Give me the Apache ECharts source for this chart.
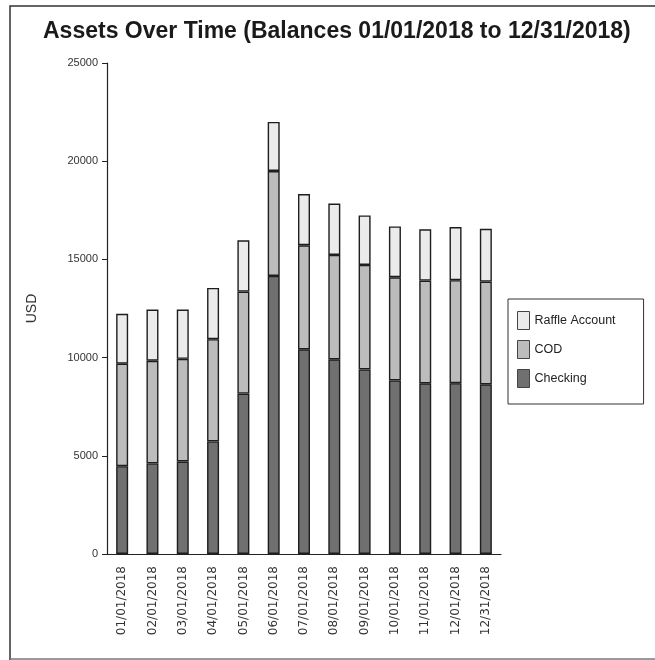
<!DOCTYPE html>
<html>
<head>
<meta charset="utf-8">
<script src="https://cdn.jsdelivr.net/npm/echarts@6/dist/echarts.min.js"></script>
<style>
  html, body { margin: 0; padding: 0; background: #fff; }
  #main { width: 655px; height: 660px; }
</style>
</head>
<body>
<div id="main"></div>
<script>
// month-end balances
var dates = ['01/01/2018', '02/01/2018', '03/01/2018', '04/01/2018', '05/01/2018', '06/01/2018',
  '07/01/2018', '08/01/2018', '09/01/2018', '10/01/2018', '11/01/2018', '12/01/2018', '12/31/2018'];
var checking = [4470, 4610, 4710, 5730, 8170, 14160, 10420, 9910, 9400, 8840, 8690, 8700, 8640];
var cod = [5220, 5230, 5230, 5210, 5190, 5340, 5300, 5320, 5320, 5250, 5230, 5240, 5230];
var raffle = [2540, 2610, 2510, 2610, 2610, 2500, 2610, 2610, 2520, 2590, 2610, 2710, 2690];

var chart = echarts.init(document.getElementById('main'));

function barSeries(name, data, color) {
  return {
    name: name,
    type: 'bar',
    stack: 'total',
    barWidth: 12,
    data: data,
    itemStyle: { color: color, borderColor: '#1e1e1e', borderWidth: 1.4 }
  };
}

var option = {
  backgroundColor: '#fff',
  animation: false,
  textStyle: { fontFamily: 'Liberation Sans' },
  title: {
    text: 'Assets Over Time (Balances 01/01/2018 to 12/31/2018)',
    left: 38,
    top: 15,
    textStyle: { fontSize: 23, fontWeight: 'bold', color: '#1a1a1a', fontFamily: 'Liberation Sans' }
  },
  legend: {
    orient: 'vertical',
    left: 508,
    top: 299,
    data: ['Raffle Account', 'COD', 'Checking'],
    icon: 'rect',
    itemWidth: 12,
    itemHeight: 18,
    itemGap: 10,
    padding: [12, 28, 16, 9],
    borderColor: '#333',
    borderWidth: 1,
    itemStyle: { borderColor: '#444', borderWidth: 1 },
    textStyle: { fontSize: 12.5, color: '#222' }
  },
  grid: { left: 107, right: 154, top: 63, bottom: 106 },
  xAxis: {
    type: 'category',
    data: dates,
    axisLine: { lineStyle: { color: '#222', width: 1.2 } },
    axisTick: { length: 6, lineStyle: { color: '#222' } },
    axisLabel: { rotate: 90, fontSize: 12, color: '#333', margin: 12, fontFamily: 'DejaVu Sans' }
  },
  yAxis: {
    type: 'value',
    min: 0,
    max: 25000,
    interval: 5000,
    name: 'USD',
    nameLocation: 'middle',
    nameRotate: 90,
    nameGap: 68,
    nameTextStyle: { fontSize: 14, color: '#333' },
    axisLine: { show: true, lineStyle: { color: '#222', width: 1.2 } },
    axisTick: { show: true, length: 5, lineStyle: { color: '#222' } },
    axisLabel: { fontSize: 11, color: '#333', margin: 9, formatter: function (v) { return String(v); } },
    splitLine: { show: false }
  },
  series: [
    barSeries('Checking', checking, '#707070'),
    barSeries('COD', cod, '#bcbcbc'),
    barSeries('Raffle Account', raffle, '#ebebeb')
  ],
  graphic: [
    {
      type: 'polyline',
      shape: { points: [[10, 660], [10, 6], [655, 6]] },
      style: { stroke: '#333', lineWidth: 1.5, fill: null }
    },
    {
      type: 'line',
      shape: { x1: 10, y1: 659, x2: 655, y2: 659 },
      style: { stroke: '#777', lineWidth: 1.5 }
    }
  ]
};

chart.setOption(option);
</script>
</body>
</html>
